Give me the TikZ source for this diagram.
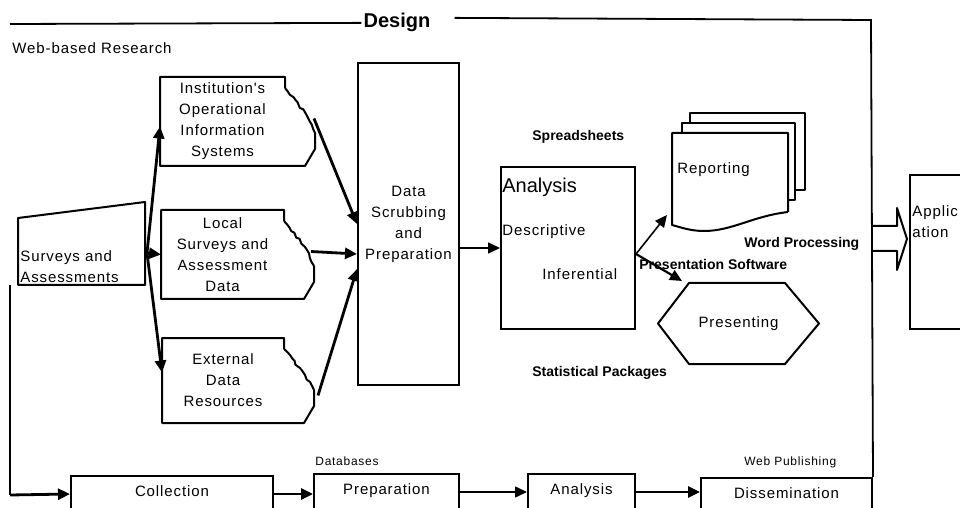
\documentclass[tikz,border=0pt]{standalone}
\usepackage{fontspec}
\setmainfont{Liberation Sans}
\newfontfamily\spacedfont[LetterSpace=6]{Liberation Sans}
\usetikzlibrary{arrows.meta,calc,decorations.pathmorphing}

% outline of a source box whose right edge is torn off
\newcommand{\tornbox}[1]{%
  \draw[outline] ($(#1.north east)+(0,11)$) -- (#1.north east) -- (#1.north west)
    -- (#1.south west) -- ($(#1.south east)+(20,0)$) -- ++(10,-17) -- ++(0,-16)
    coordinate (#1-tear);
  \draw[outline, decorate, decoration={random steps, segment length=2pt, amplitude=0.5pt}]
    ($(#1.north east)+(0,11)$) -- ++(21,26) -- (#1-tear);
}

\begin{document}
\begin{tikzpicture}[
    x=0.5pt, y=-0.5pt,
    >={Triangle[length=6pt,width=5.5pt]},
    outline/.style={draw, line width=1pt, line join=round},
    box/.style={rectangle, draw, line width=1pt, inner sep=1pt, anchor=north west},
    txt/.style={font=\spacedfont\fontsize{7.5}{10.5}\selectfont},
    lower/.style={box, txt, minimum height=18pt, text depth=3pt},
    hint/.style={inner sep=0pt, font=\bfseries\fontsize{7}{8}\selectfont},
    note/.style={inner sep=0pt, font=\spacedfont\fontsize{6}{7}\selectfont},
    frame/.style={line width=0.9pt},
    heavy/.style={->, line width=1.4pt},
    feed/.style={->, line width=0.8pt},
  ]
  \useasboundingbox (0,0) rectangle (960,508);

  % --- Design frame ---
  \node[font=\bfseries\fontsize{10}{12}\selectfont, anchor=base, inner sep=1pt]
    (design) at (397,28) {Design};
  \node[txt, anchor=base west, inner sep=0pt] (webres) at (12,54) {Web-based Research};

  % --- Sources ---
  \coordinate (inputBL) at (18,285);
  \draw[outline] (inputBL) -- ++(0,-67) -- ++(127,-16) -- ++(0,83) -- cycle;
  \node[txt, align=left, anchor=south west, inner sep=1pt] (survey) at (inputBL)
    {Surveys and\\Assessments};
  \coordinate (fork) at ($(inputBL)+(129,-32)$);

  \node[box, txt, align=center, draw=none, minimum width=61.5pt, minimum height=43.5pt]
    (inst) at (160,77) {Institution's\\Operational\\Information\\Systems};
  \node[box, txt, align=center, draw=none, minimum width=60.5pt, minimum height=43.5pt]
    (local) at (161,210) {Local\\Surveys and\\Assessment\\Data};
  \node[box, txt, align=center, draw=none, minimum width=60pt, minimum height=41.5pt]
    (ext) at (162,338) {External\\Data\\Resources};
  \foreach \src in {inst, local, ext} {
    \tornbox{\src}
  }

  \draw[heavy] (fork) -- ($(inst.west)+(0,5)$);
  \draw[heavy] (fork) -- (local.west);
  \draw[heavy] (fork) -- ($(ext.west)+(0,-8)$);

  % --- Scrubbing ---
  \node[box, txt, align=center, minimum width=50.5pt, minimum height=161pt]
    (scrub) at (357,62) {Data\\Scrubbing\\and\\Preparation};
  \draw[heavy] ($(inst.east)+(29,-3)$) -- (scrub.west);
  \draw[heavy] ($(local.east)+(27,-3)$) -- ($(scrub.west)+(0,30)$);
  \draw[heavy] ($(ext.east)+(34,15)$) -- ($(scrub.west)+(0,45)$);

  % --- Analysis ---
  \node[box, minimum width=67pt, minimum height=81pt] (ana) at (500,166) {};
  \node[inner sep=0pt, anchor=base west, font=\fontsize{10}{12}\selectfont]
    (anahead) at ($(ana.north west)+(2,27)$) {Analysis};
  \node[txt, inner sep=0pt, anchor=base west] (desc) at ($(ana.north west)+(2,69)$) {Descriptive};
  \node[txt, inner sep=0pt, anchor=base west] (infer) at ($(ana.north west)+(42,113)$) {Inferential};
  \draw[feed] (scrub.east |- ana.west) -- (ana.west);

  \node[hint, anchor=base west] (sheets) at (532,141) {Spreadsheets};
  \node[hint, anchor=base west] (stats) at (532,376) {Statistical Packages};

  % --- Reporting (stack of pages) ---
  \node[box, draw=none, minimum width=57pt, minimum height=38.5pt] (rep) at (672,133) {};
  \draw[outline, fill=white] ($(rep.north west)+(18,-20)$) rectangle ($(rep.north east)+(17,57)$);
  \draw[outline, fill=white] ($(rep.north west)+(10,-10)$) rectangle ($(rep.north east)+(7,67)$);
  \draw[outline, fill=white] (rep.south east) -- (rep.north east) -- (rep.north west)
    -- ($(rep.south west)+(0,13)$)
    .. controls ($(rep.south west)+(8,15)$) and ($(rep.south west)+(18,19)$) .. ($(rep.south west)+(32,19)$)
    .. controls ($(rep.south west)+(60,19)$) and ($(rep.south east)+(-35,4)$) .. (rep.south east);
  \node[txt, inner sep=0pt, anchor=base west] (replab) at ($(rep.north west)+(5,41)$) {Reporting};

  % --- Presenting ---
  \node[box, draw=none, txt, minimum width=79.5pt, minimum height=39.5pt] (pres) at (658,283) {Presenting};
  \draw[outline] (pres.west) -- ($(pres.north west)+(31,0)$) -- ($(pres.north east)+(-34,0)$)
    -- (pres.east) -- ($(pres.south east)+(-34,0)$) -- ($(pres.south west)+(31,0)$) -- cycle;

  \coordinate (anaout) at ($(ana.east)+(0,6)$);
  \draw[feed] (anaout) -- ($(rep.south west)+(-5,3)$);
  \draw[->, line width=1.1pt] (anaout) -- ($(pres.north west)+(24,-2)$);

  \node[hint, anchor=base west] (wordp) at (744,248) {Word Processing};
  \node[hint, anchor=base west] (slides) at (639,270) {Presentation Software};

  % --- Application ---
  \node[box, minimum width=50pt, minimum height=77pt] (app) at (909,174) {};
  \node[txt, align=left, anchor=north west, inner sep=1pt] (applab)
    at ($(app.north west)+(1,29)$) {Applic\\ation};

  % --- Web-based pipeline ---
  \node[lower, minimum width=101pt] (coll) at (70,475) {Collection};
  \node[lower, minimum width=72.5pt] (prep) at (313,473) {Preparation};
  \node[lower, minimum width=53.5pt] (ana2) at (527,473) {Analysis};
  \node[lower, minimum width=85.5pt] (diss) at (700,477) {Dissemination};
  \node[note, anchor=base west] (dbs) at (315,466) {Databases};
  \node[note, anchor=base west] (webpub) at (744,466) {Web Publishing};

  \draw[heavy] (coll.east) -- (coll.east -| prep.west);
  \draw[feed] (prep.east) -- (ana2.west);
  \draw[heavy] (ana2.east) -- (ana2.east -| diss.west);

  % frame lines
  \coordinate (frameTL) at (10,24);
  \coordinate (frameTR) at (871,20);
  \coordinate (frameML) at (10,285);
  \coordinate (frameBL) at (10,495);
  \draw[frame] (frameTL) -- (design.west);
  \draw[frame] ($(design.east)+(22,-5)$) -- (frameTR) -- (diss.north east);
  \draw[frame] (frameML) -- (frameBL);
  \draw[heavy] (frameBL) -- (coll.west);

  % hollow arrow into Application
  \coordinate (apptip) at ($(app.north west)+(-2,65)$);
  \draw[outline] ($(apptip)+(-36,-13)$) -- ++(26,0) -- ++(0,-18) -- (apptip)
    -- ++(-10,31) -- ++(0,-19) -- ++(-26,0);
\end{tikzpicture}
\end{document}
